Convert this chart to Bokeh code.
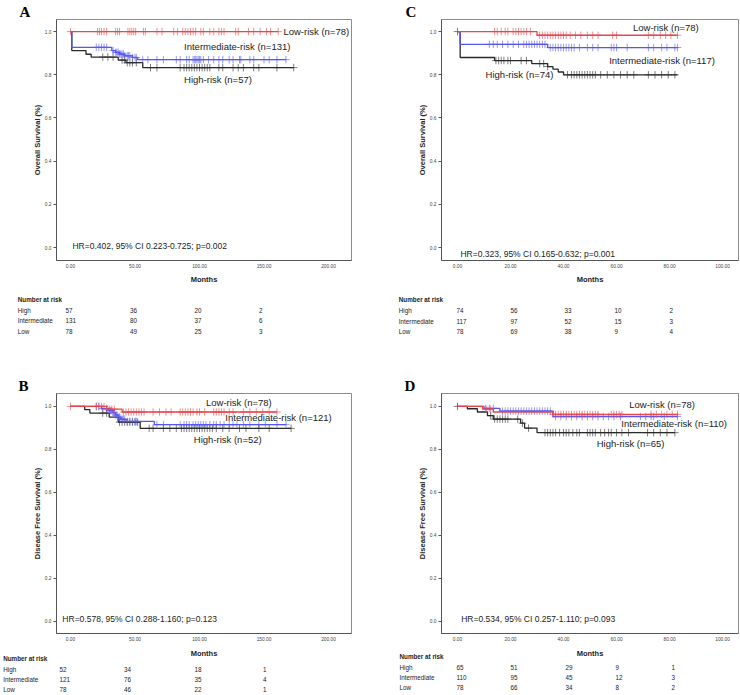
import numpy as np
from bokeh.plotting import figure
from bokeh.layouts import column, row
from bokeh.models import Label, FixedTicker, NumeralTickFormatter, Range1d
from bokeh.core.properties import value
from bokeh.embed import file_html
from bokeh.resources import INLINE

# ---------------- data ----------------
# Panel A: Overall survival (months 0-200)
A_low_t = [0, 161]
A_low_s = [1.0, 1.0]
A_low_cens = [0, 21, 22.5, 24, 26, 28, 35, 36.5, 38, 44.5, 46, 47.5, 49, 50.5, 56.5, 58, 67, 71, 80, 83,
              87, 89, 91, 93, 95, 97, 101, 103, 108, 111, 115, 117, 119, 128, 130, 138, 142, 147, 152, 155, 161]
A_int_t = [0, 1, 32, 35, 38, 42, 48, 52, 167]
A_int_s = [1.0, 0.927, 0.912, 0.904, 0.896, 0.888, 0.880, 0.870, 0.870]
A_int_cens = [20, 22, 24, 26, 28, 33, 35, 36, 37, 38, 39, 40, 41, 42, 44, 45, 46, 48, 50, 51, 56, 60, 67, 72,
              82, 85, 90, 92, 95, 96, 97, 98, 99, 100, 101, 103, 107, 111, 115, 118, 123, 126, 131, 132, 139,
              142, 150, 154, 160, 167]
A_high_t = [0, 1, 12, 16, 37, 43, 56, 173]
A_high_s = [1.0, 0.912, 0.895, 0.882, 0.868, 0.856, 0.833, 0.833]
A_high_cens = [25, 29, 33, 40, 42, 44, 46, 48, 51, 62, 67, 85, 88, 90, 92, 94, 96, 98, 100, 102, 104, 106,
               108, 115, 118, 126, 130, 134, 142, 146, 160, 173]

# Panel C: Overall survival (months 0-100)
C_low_t = [0, 30, 83]
C_low_s = [1.0, 0.983, 0.983]
C_low_cens = [14, 15, 16.5, 18, 19, 21, 22, 23, 24, 25, 26, 27.5, 31, 32, 33, 34, 35, 36, 37, 38, 39, 40, 41,
              42.5, 44.5, 46.5, 49, 51, 53, 58.5, 60, 72, 74, 76.5, 78.5, 80.5, 83]
C_int_t = [0, 1, 34, 83]
C_int_s = [1.0, 0.941, 0.926, 0.926]
C_int_cens = [12, 13.5, 15, 17, 19, 21, 23, 25, 26, 27, 28, 29, 30, 31, 32, 33, 35, 36, 37, 38, 39, 40, 41,
              42, 43, 44, 46, 49, 51, 53, 58, 59, 60, 64, 72, 74, 77, 79, 82, 83]
C_high_t = [0, 1, 14, 28, 34, 36, 38, 40, 83]
C_high_s = [1.0, 0.880, 0.866, 0.852, 0.838, 0.826, 0.813, 0.800, 0.800]
C_high_cens = [0, 14.5, 15.5, 16.5, 17.5, 19, 20, 24, 26, 31, 32.5, 34, 41.5, 43, 44, 45, 46, 47, 48, 49, 50,
               51, 52, 54, 56.5, 59, 61.5, 64, 66.5, 72, 74.5, 77, 79.5, 82]

# Panel B: Disease free survival (months 0-200)
B_low_t = [0, 28, 40, 160]
B_low_s = [1.0, 0.987, 0.974, 0.974]
B_low_cens = [0, 20, 22, 24, 26, 28.5, 30, 32, 34, 41, 43, 45, 47, 49, 51, 53, 55, 57, 64, 69, 74, 78, 85,
              87, 89, 91, 93, 95, 98, 100, 104, 111, 113, 115, 117, 119, 123, 126, 134, 139, 144, 149, 154, 160]
B_int_t = [0, 24, 30, 33, 35, 37, 39, 43, 65, 167]
B_int_s = [1.0, 0.99, 0.98, 0.97, 0.96, 0.95, 0.94, 0.93, 0.915, 0.915]
B_int_cens = [20, 22, 25, 28, 30, 31, 32, 33, 34, 35, 36, 37, 38, 39, 40, 41, 42, 44, 46, 48, 50, 51, 67, 72,
              85, 88, 90, 92, 95, 97, 99, 101, 103, 105, 108, 111, 113, 116, 119, 123, 126, 129, 134, 139,
              146, 151, 160, 167]
B_high_t = [0, 11, 15, 30, 37, 54, 171]
B_high_s = [1.0, 0.985, 0.969, 0.95, 0.927, 0.898, 0.898]
B_high_cens = [25, 28, 38, 40, 42, 44, 46, 48, 50, 52, 61, 64, 72, 77, 82, 86, 88, 90, 92, 94, 96, 98, 100,
               102, 104, 106, 108, 110, 113, 118, 123, 131, 136, 146, 154, 171]

# Panel D: Disease free survival (months 0-100)
D_low_t = [0, 9.5, 13.5, 36, 83]
D_low_s = [1.0, 0.987, 0.974, 0.963, 0.963]
D_low_cens = [11, 12.5, 36, 37, 38, 39, 40, 41, 42, 43, 44, 45, 46, 47, 48, 49, 50, 51, 52, 53, 58, 59, 60,
              61, 62, 73, 75, 77, 79, 81, 83]
D_int_t = [0, 10, 16, 36, 83]
D_int_s = [1.0, 0.991, 0.978, 0.953, 0.953]
D_int_cens = [10.5, 12, 13.5, 17, 18, 19, 20, 21, 22, 23, 24, 25, 26, 27, 28, 29, 30, 31, 32, 33, 34, 35, 37,
              39, 41, 43, 45, 47, 49, 51, 53, 55, 57, 59, 61.5, 69, 71, 73, 74, 78, 83]
D_high_t = [0, 3.7, 7.5, 11.3, 13.5, 23.8, 25.3, 30, 82]
D_high_s = [1.0, 0.989, 0.974, 0.957, 0.941, 0.922, 0.899, 0.878, 0.878]
D_high_cens = [0, 12.5, 14, 15, 16, 17, 18, 19, 22.7, 24.5, 26.8, 33, 34, 35, 36, 37, 38.5, 40, 41, 42, 43.5,
               45, 46, 49, 50, 51, 52, 54, 55.5, 57, 58, 60, 62, 64.5, 71.7, 74, 76.5, 79, 82]

# Number at risk
risk_groups = ["High", "Intermediate", "Low"]
A_risk_times = [0, 50, 100, 150]
A_risk = [[57, 36, 20, 2], [131, 80, 37, 6], [78, 49, 25, 3]]
C_risk_times = [0, 20, 40, 60, 80]
C_risk = [[74, 56, 33, 10, 2], [117, 97, 52, 15, 3], [78, 69, 38, 9, 4]]
B_risk_times = [0, 50, 100, 150]
B_risk = [[52, 34, 18, 1], [121, 76, 35, 4], [78, 46, 22, 1]]
D_risk_times = [0, 20, 40, 60, 80]
D_risk = [[65, 51, 29, 9, 1], [110, 95, 45, 12, 3], [78, 66, 34, 8, 2]]

# Texts
A_labels = ["Low-risk (n=78)", "Intermediate-risk (n=131)", "High-risk (n=57)"]
C_labels = ["Low-risk (n=78)", "Intermediate-risk (n=117)", "High-risk (n=74)"]
B_labels = ["Low-risk (n=78)", "Intermediate-risk (n=121)", "High-risk (n=52)"]
D_labels = ["Low-risk (n=78)", "Intermediate-risk (n=110)", "High-risk (n=65)"]
A_hr = "HR=0.402, 95% CI 0.223-0.725; p=0.002"
C_hr = "HR=0.323, 95% CI 0.165-0.632; p=0.001"
B_hr = "HR=0.578, 95% CI 0.288-1.160; p=0.123"
D_hr = "HR=0.534, 95% CI 0.257-1.110; p=0.093"

y_ticks = [0.0, 0.2, 0.4, 0.6, 0.8, 1.0]
x_ticks_long = [0, 50, 100, 150, 200]
x_ticks_short = [0, 20, 40, 60, 80, 100]

# ---------------- style ----------------
FONT = "Liberation Sans"
SERIF = "Liberation Serif"
RED = "#e8474e"
BLUE = "#5656f0"
BLACK = "#2a2a2a"
TXT = "#222222"


def no_align(fig):
    if "frame_align" in fig.properties():
        fig.frame_align = False


def make_panel(cfg):
    bl, fw, br = cfg["bl"], cfg["fw"], cfg["br"]
    bt, fh, bb = cfg["bt"], cfg["fh"], cfg["bb"]
    x0, x1 = cfg["xr"]
    y0, y1 = cfg["yr"]
    W, H = bl + fw + br, bt + fh + bb
    p = figure(width=W, height=H, frame_width=fw, frame_height=fh,
               min_border_left=bl, min_border_right=br, min_border_top=bt, min_border_bottom=bb,
               x_range=Range1d(x0, x1), y_range=Range1d(y0, y1),
               output_backend="svg", toolbar_location=None, tools="")
    no_align(p)
    p.background_fill_color = "white"
    p.border_fill_color = "white"
    p.outline_line_color = "#8c8c8c"
    p.outline_line_width = 1
    p.xgrid.visible = False
    p.ygrid.visible = False

    # panel letter as title
    p.title.text = cfg["letter"]
    p.title.text_font = SERIF
    p.title.text_font_style = "bold"
    p.title.text_font_size = "15px"
    p.title.text_color = "black"
    p.title.align = "left"
    p.title.offset = cfg["letter_x"] - bl
    p.title.standoff = 0

    # axes
    xa = p.xaxis[0]
    ya = p.yaxis[0]
    xa.ticker = FixedTicker(ticks=cfg["xticks"])
    xa.formatter = NumeralTickFormatter(format="0.00")
    ya.ticker = FixedTicker(ticks=y_ticks)
    ya.formatter = NumeralTickFormatter(format="0.0")
    for ax in (xa, ya):
        ax.axis_line_color = "#555555"
        ax.major_tick_line_color = "#555555"
        ax.minor_tick_line_color = None
        ax.major_tick_in = 0
        ax.major_label_text_font = FONT
        ax.major_label_text_font_size = "4.8px"
        ax.major_label_text_color = "#444444"
        ax.axis_label_text_font = FONT
        ax.axis_label_text_font_style = "bold"
        ax.axis_label_text_font_size = "7.5px"
        ax.axis_label_text_color = TXT
    xa.major_tick_out = 0
    xa.major_label_standoff = 3
    ya.major_tick_out = 3
    ya.major_label_standoff = 2
    ya.axis_label = cfg["ylabel"]
    ya.axis_label_standoff = 0

    # curves: high, intermediate, low (low on top)
    for t, s, cens, color in cfg["curves"]:
        t = np.asarray(t, float)
        s = np.asarray(s, float)
        p.step(t, s, mode="after", line_color=color, line_width=1.3)
        c = np.asarray(cens, float)
        idx = np.clip(np.searchsorted(t, c, side="right") - 1, 0, len(s) - 1)
        p.scatter(c, s[idx], marker="cross", size=7.5, line_color=color, line_alpha=0.6, line_width=1)

    # group labels inside frame
    for text, (lx, ly) in zip(cfg["labels"], cfg["label_pos"]):
        p.add_layout(Label(x=lx, y=ly, text=text, text_font=FONT, text_font_size="9.5px",
                           text_color=TXT, text_align="left", text_baseline="middle"))
    hx, hy = cfg["hr_pos"]
    p.add_layout(Label(x=hx, y=hy, text=cfg["hr"], text_font=FONT, text_font_size="8.5px",
                       text_color=TXT, text_align="left", text_baseline="middle"))

    # ---- table figure (months label + number at risk) ----
    th = cfg["th"]
    k = (x1 - x0) / fw
    tx0, tx1 = x0 - bl * k, x1 + br * k
    t = figure(width=W, height=th, frame_width=W, frame_height=th,
               min_border_left=0, min_border_right=0, min_border_top=0, min_border_bottom=0,
               x_range=Range1d(tx0, tx1), y_range=Range1d(th, 0),
               x_axis_location=None, y_axis_location=None,
               output_backend="svg", toolbar_location=None, tools="")
    no_align(t)
    t.outline_line_color = None
    t.xgrid.visible = False
    t.ygrid.visible = False
    t.background_fill_color = "white"
    t.border_fill_color = "white"

    rows = cfg["table_rows"]  # months, header, high, intermediate, low (px from table top)
    t.text(x=[(x0 + x1) / 2], y=[rows[0]], text=["Months"], text_font=value(FONT),
           text_font_style="bold", text_font_size="7.5px", text_color=TXT,
           text_align="center", text_baseline="middle")
    lab_x = tx0 + cfg["table_x"] * k
    t.text(x=[lab_x], y=[rows[1]], text=["Number at risk"], text_font=value(FONT),
           text_font_style="bold", text_font_size="6.3px", text_color=TXT,
           text_align="left", text_baseline="middle")
    t.text(x=[lab_x] * 3, y=rows[2:5], text=risk_groups, text_font=value(FONT),
           text_font_size="6.3px", text_color=TXT, text_align="left", text_baseline="middle")
    nx, ny, nt = [], [], []
    for gi in range(3):
        for ci, (tm, n) in enumerate(zip(cfg["risk_times"], cfg["risk"][gi])):
            nx.append(tm + cfg["num_off"][ci] * k)
            ny.append(rows[2 + gi])
            nt.append(str(n))
    t.text(x=nx, y=ny, text=nt, text_font=value(FONT), text_font_size="6.3px", text_color=TXT,
           text_align="left", text_baseline="middle")
    return column(p, t)


pA = make_panel(dict(
    bl=56, fw=295, br=19, bt=19, fh=241, bb=12, th=102, xr=(-10.85, 217.8), yr=(-0.060, 1.056),
    xticks=x_ticks_long, ylabel="Overall Survival (%)",
    curves=[(A_high_t, A_high_s, A_high_cens, BLACK), (A_int_t, A_int_s, A_int_cens, BLUE),
            (A_low_t, A_low_s, A_low_cens, RED)],
    labels=A_labels, label_pos=[(165, 1.0), (88, 0.93), (88, 0.777)],
    hr=A_hr, hr_pos=(1.5, 0.005), letter="A", letter_x=19,
    table_rows=[7, 27.3, 37.5, 48, 58.7], table_x=17.3, risk_times=A_risk_times, risk=A_risk,
    num_off=[-5, -5, -5, -5]))

pC = make_panel(dict(
    bl=71, fw=297, br=2, bt=19, fh=241, bb=12, th=102, xr=(-6.04, 106.0), yr=(-0.060, 1.056),
    xticks=x_ticks_short, ylabel="Overall Survival (%)",
    curves=[(C_high_t, C_high_s, C_high_cens, BLACK), (C_int_t, C_int_s, C_int_cens, BLUE),
            (C_low_t, C_low_s, C_low_cens, RED)],
    labels=C_labels, label_pos=[(66.2, 1.02), (57.2, 0.865), (10.6, 0.80)],
    hr=C_hr, hr_pos=(1.1, -0.03), letter="C", letter_x=35,
    table_rows=[7, 27.3, 38, 48.7, 59], table_x=28.3, risk_times=C_risk_times, risk=C_risk,
    num_off=[-1, 0, 1, -2, 0]))

pB = make_panel(dict(
    bl=56, fw=295, br=19, bt=19, fh=240, bb=12, th=50, xr=(-10.85, 217.8), yr=(-0.056, 1.060),
    xticks=x_ticks_long, ylabel="Disease Free Survival (%)",
    curves=[(B_high_t, B_high_s, B_high_cens, BLACK), (B_int_t, B_int_s, B_int_cens, BLUE),
            (B_low_t, B_low_s, B_low_cens, RED)],
    labels=B_labels, label_pos=[(105, 1.017), (120, 0.947), (95.6, 0.847)],
    hr=B_hr, hr_pos=(-6.3, 0.01), letter="B", letter_x=18,
    table_rows=[8.3, 13.3, 24, 34, 44.3], table_x=2.7, risk_times=B_risk_times, risk=B_risk,
    num_off=[-11, -11, -5, -1]))

pD = make_panel(dict(
    bl=71, fw=297, br=2, bt=19, fh=240, bb=12, th=50, xr=(-6.04, 106.0), yr=(-0.056, 1.060),
    xticks=x_ticks_short, ylabel="Disease Free Survival (%)",
    curves=[(D_high_t, D_high_s, D_high_cens, BLACK), (D_int_t, D_int_s, D_int_cens, BLUE),
            (D_low_t, D_low_s, D_low_cens, RED)],
    labels=D_labels, label_pos=[(64.8, 1.01), (61.8, 0.92), (52.5, 0.827)],
    hr=D_hr, hr_pos=(1.4, 0.01), letter="D", letter_x=34,
    table_rows=[8.3, 11, 21.7, 31.7, 41.7], table_x=29, risk_times=D_risk_times, risk=D_risk,
    num_off=[-1, 0, 2, -1, 2]))

layout = column(row(pA, pC), row(pB, pD))
open("out.html", "w").write(file_html(layout, INLINE))
